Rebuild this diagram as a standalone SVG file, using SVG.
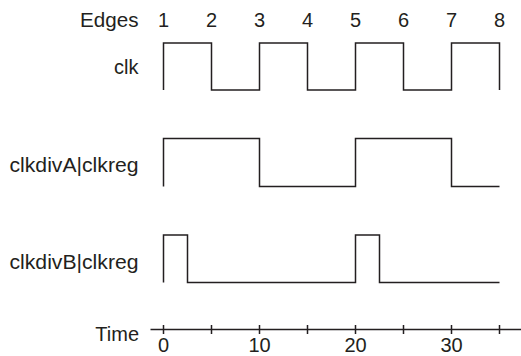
<svg xmlns="http://www.w3.org/2000/svg" width="521" height="356" viewBox="0 0 521 356">
<style>
text{font-family:"Liberation Sans",Arial,sans-serif;font-size:20px;fill:#231f20}
.lbl{text-anchor:end}
.num{text-anchor:middle}
.w{fill:none;stroke:#231f20;stroke-width:1.5}
</style>
<rect width="521" height="356" fill="#fff"/>
<g id="labels">
<text class="lbl" x="138.5" y="27" textLength="58.5" lengthAdjust="spacingAndGlyphs">Edges</text>
<text class="lbl" x="138.5" y="74">clk</text>
<text class="lbl" x="138.5" y="172" textLength="129" lengthAdjust="spacingAndGlyphs">clkdivA|clkreg</text>
<text class="lbl" x="138.5" y="269" textLength="129" lengthAdjust="spacingAndGlyphs">clkdivB|clkreg</text>
<text class="lbl" x="139" y="341">Time</text>
</g>
<g id="edges">
<text class="num" x="163.5" y="27">1</text>
<text class="num" x="211.5" y="27">2</text>
<text class="num" x="259.5" y="27">3</text>
<text class="num" x="307.5" y="27">4</text>
<text class="num" x="355.5" y="27">5</text>
<text class="num" x="403.5" y="27">6</text>
<text class="num" x="451.5" y="27">7</text>
<text class="num" x="499.5" y="27">8</text>
</g>
<g id="clk">
<path class="w" d="M163.5 90V43H211.5V90H259.5V43H307.5V90H355.5V43H403.5V90H451.5V43H499.5V90"/>
</g>
<g id="clkdivA">
<path class="w" d="M163.5 186.5V138.5H259.5V186.5H355.5V138.5H451.5V186.5H499.5"/>
</g>
<g id="clkdivB">
<path class="w" d="M163.5 282.5V235H187.5V282.5H355.5V235H379.5V282.5H499.5"/>
</g>
<g id="time-axis">
<path class="w" d="M150.5 329.5H521M163.5 325V334M211.5 325V334M259.5 325V334M307.5 325V334M355.5 325V334M403.5 325V334M451.5 325V334M499.5 325V334"/>
<text class="num" x="163.5" y="351.5">0</text>
<text class="num" x="259.5" y="351.5">10</text>
<text class="num" x="355.5" y="351.5">20</text>
<text class="num" x="451.5" y="351.5">30</text>
</g>
</svg>
